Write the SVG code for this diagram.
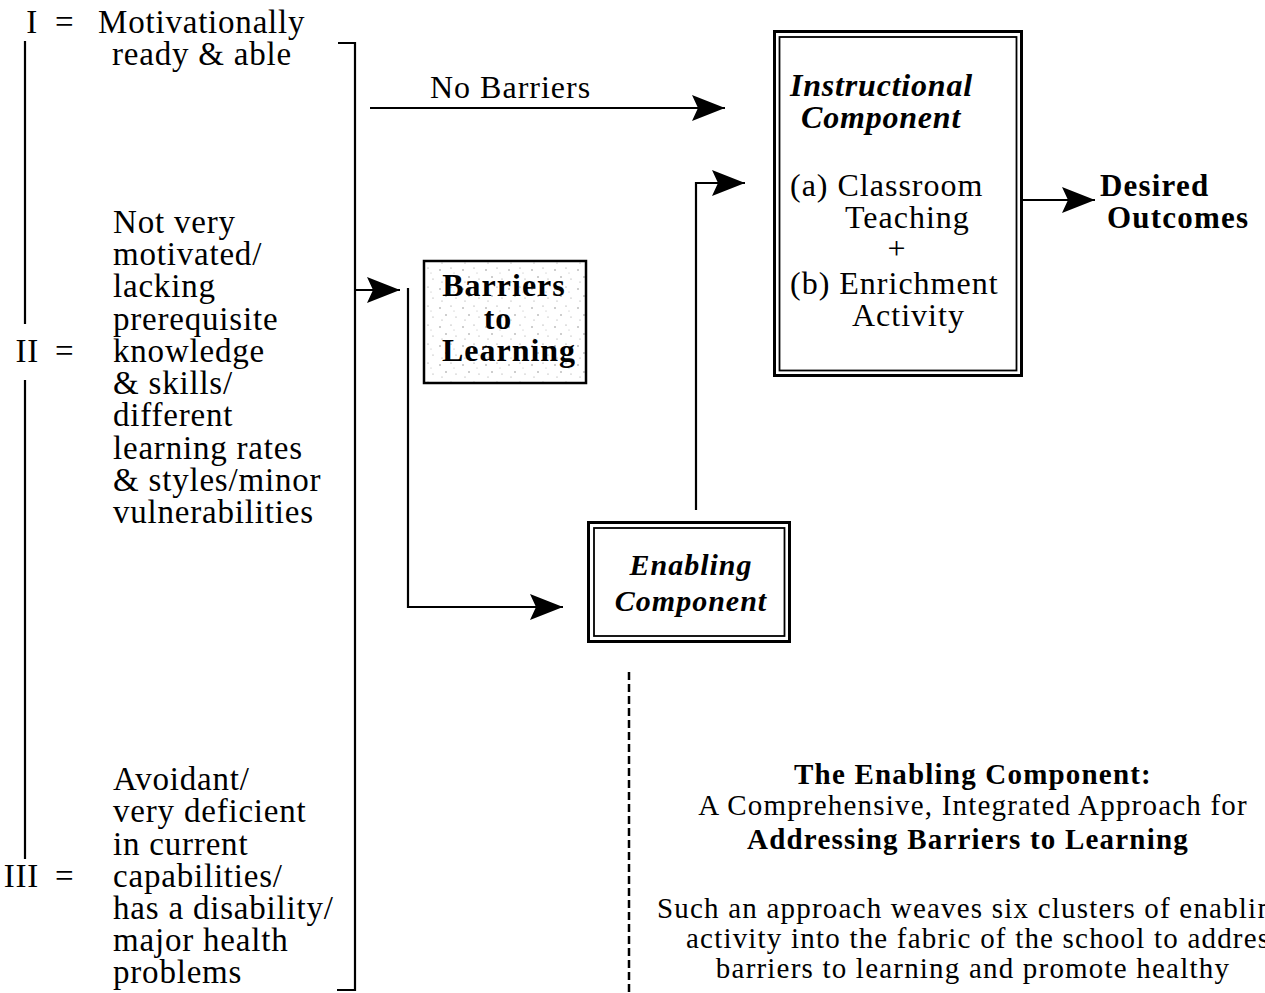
<svg xmlns="http://www.w3.org/2000/svg" width="1265" height="993" viewBox="0 0 1265 993">
<style>
.t{font-family:"Liberation Serif","Times New Roman",serif;font-size:33px;letter-spacing:0.8px;fill:#000}
.m{font-size:32px;letter-spacing:1px}
.s{font-size:29px;letter-spacing:1.2px}
.b{font-weight:bold}
.i{font-style:italic}
.ln{fill:none;stroke:#000;stroke-width:2.2}
.dash{fill:none;stroke:#000;stroke-width:2.5;stroke-dasharray:8 4}
</style>
<defs>
<marker id="ah" viewBox="0 0 34 26" refX="33" refY="13" markerWidth="34" markerHeight="26" markerUnits="userSpaceOnUse" orient="auto">
<path d="M0,0 L33,13 L0,26 L6,13 Z" fill="#000"/>
</marker>
<pattern id="stip" width="23" height="19" patternUnits="userSpaceOnUse">
<rect width="23" height="19" fill="#fff"/>
<circle cx="3" cy="4" r="0.7" fill="#777"/>
<circle cx="14" cy="2" r="0.6" fill="#888"/>
<circle cx="9" cy="11" r="0.7" fill="#777"/>
<circle cx="19" cy="13" r="0.6" fill="#999"/>
<circle cx="5" cy="16" r="0.5" fill="#888"/>
<circle cx="17" cy="7" r="0.5" fill="#aaa"/>
</pattern>
</defs>

<g id="connectors">
<!-- left bracket line -->
<line class="ln" x1="25" y1="41" x2="25" y2="324"/>
<line class="ln" x1="25" y1="380" x2="25" y2="859"/>
<!-- right bracket -->
<polyline class="ln" points="338,43 355,43 355,990 337,990"/>
<!-- No Barriers arrow -->
<line class="ln" x1="370" y1="108" x2="725" y2="108" marker-end="url(#ah)"/>
<!-- bracket to barriers -->
<line class="ln" x1="355" y1="290" x2="400" y2="290" marker-end="url(#ah)"/>
<!-- barriers path to enabling -->
<polyline class="ln" points="408,288 408,607 563,607" marker-end="url(#ah)"/>
<!-- enabling to instructional -->
<polyline class="ln" points="696,510 696,183 745,183" marker-end="url(#ah)"/>
<!-- instructional to outcomes -->
<line class="ln" x1="1023" y1="200" x2="1095" y2="200" marker-end="url(#ah)"/>
<!-- dashed line -->
<line class="dash" x1="629" y1="672" x2="629" y2="993"/>
</g>

<g id="no-barriers-label">
<text class="t m" x="430" y="98">No Barriers</text>
</g>

<g id="group-I">
<text class="t" x="38" y="33" text-anchor="end">I</text>
<text class="t" x="55" y="33">=</text>
<text class="t" x="98" y="33">Motivationally</text>
<text class="t" x="112" y="65">ready &amp; able</text>
</g>

<g id="group-II">
<text class="t" x="39" y="362" text-anchor="end">II</text>
<text class="t" x="55" y="362">=</text>
<text class="t" x="113" y="233">Not very</text>
<text class="t" x="113" y="265">motivated/</text>
<text class="t" x="113" y="297">lacking</text>
<text class="t" x="113" y="330">prerequisite</text>
<text class="t" x="113" y="362">knowledge</text>
<text class="t" x="113" y="394">&amp; skills/</text>
<text class="t" x="113" y="426">different</text>
<text class="t" x="113" y="459">learning rates</text>
<text class="t" x="113" y="491">&amp; styles/minor</text>
<text class="t" x="113" y="523">vulnerabilities</text>
</g>

<g id="group-III">
<text class="t" x="39" y="887" text-anchor="end">III</text>
<text class="t" x="55" y="887">=</text>
<text class="t" x="113" y="790">Avoidant/</text>
<text class="t" x="113" y="822">very deficient</text>
<text class="t" x="113" y="855">in current</text>
<text class="t" x="113" y="887">capabilities/</text>
<text class="t" x="113" y="919">has a disability/</text>
<text class="t" x="113" y="951">major health</text>
<text class="t" x="113" y="983">problems</text>
</g>

<g id="barriers">
<rect x="424" y="261" width="162" height="122" fill="url(#stip)" stroke="#000" stroke-width="2.5"/>
<text class="t m b" x="504" y="296" text-anchor="middle">Barriers</text>
<text class="t m b" x="498" y="329" text-anchor="middle">to</text>
<text class="t m b" x="509" y="361" text-anchor="middle">Learning</text>
</g>

<g id="enabling">
<rect x="588.5" y="522.5" width="201" height="119" fill="#fff" stroke="#000" stroke-width="3"/>
<rect x="594" y="528" width="190.5" height="108" fill="none" stroke="#000" stroke-width="1.8"/>
<text class="t b i" style="font-size:30px;letter-spacing:1px" x="691" y="575" text-anchor="middle">Enabling</text>
<text class="t b i" style="font-size:30px;letter-spacing:1px" x="691" y="611" text-anchor="middle">Component</text>
</g>

<g id="instructional">
<rect x="774.5" y="31.5" width="247" height="344" fill="#fff" stroke="#000" stroke-width="3"/>
<rect x="779.5" y="37" width="237" height="333.5" fill="none" stroke="#000" stroke-width="1.8"/>
<text class="t m b i" style="letter-spacing:0.8px" x="790" y="96">Instructional</text>
<text class="t m b i" style="letter-spacing:0.8px" x="801" y="128">Component</text>
<text class="t m" x="790" y="196">(a) Classroom</text>
<text class="t m" x="845" y="228">Teaching</text>
<text class="t m" x="897" y="259" text-anchor="middle">+</text>
<text class="t m" x="790" y="294">(b) Enrichment</text>
<text class="t m" x="852" y="326">Activity</text>
</g>

<g id="outcomes">
<text class="t b" style="font-size:31px;letter-spacing:1.2px" x="1100" y="196">Desired</text>
<text class="t b" style="font-size:31px;letter-spacing:1.2px" x="1107" y="228">Outcomes</text>
</g>

<g id="description">
<text class="t s b" x="973" y="784" text-anchor="middle">The Enabling Component:</text>
<text class="t s" x="973" y="815" text-anchor="middle">A Comprehensive, Integrated Approach for</text>
<text class="t s b" x="968" y="849" text-anchor="middle">Addressing Barriers to Learning</text>
<text class="t s" x="657" y="918">Such an approach weaves six clusters of enabling</text>
<text class="t s" x="686" y="948">activity into the fabric of the school to address</text>
<text class="t s" x="973" y="978" text-anchor="middle">barriers to learning and promote healthy</text>
</g>
</svg>
